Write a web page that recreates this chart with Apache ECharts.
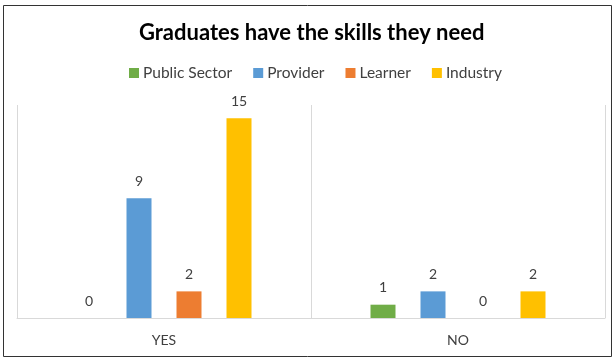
<!DOCTYPE html>
<html>
<head>
<meta charset="utf-8">
<script src="https://cdn.jsdelivr.net/npm/echarts@6/dist/echarts.min.js"></script>
<style>
  html, body { margin: 0; padding: 0; background: #ffffff; }
  #chart { width: 614px; height: 361px; }
</style>
</head>
<body>
<div id="chart"></div>
<script>
// Survey answers per stakeholder group
const categories = ['YES', 'NO'];
const publicSector = [0, 1];
const provider = [9, 2];
const learner = [2, 0];
const industry = [15, 2];

const FONT = 'Lato, "Open Sans", sans-serif';
const TEXT = '#404040';

function bar(name, data, color) {
  return {
    name: name,
    type: 'bar',
    data: data,
    barWidth: 25,
    barGap: '100%',
    itemStyle: { color: color },
    label: {
      show: true,
      position: 'top',
      distance: 10,
      color: TEXT,
      fontFamily: FONT,
      fontSize: 14
    }
  };
}

const chart = echarts.init(document.getElementById('chart'), null, { renderer: 'canvas' });
chart.setOption({
  backgroundColor: '#ffffff',
  animation: false,
  graphic: [{
    type: 'rect',
    shape: { x: 3.5, y: 5.5, width: 608, height: 351 },
    style: { fill: 'none', stroke: '#333333', lineWidth: 1 },
    z: 100
  }],
  title: {
    text: 'Graduates have the skills they need',
    left: 134,
    top: 17,
    textStyle: { fontFamily: FONT, fontSize: 22, fontWeight: 'bold', color: '#000000' }
  },
  legend: {
    top: 60,
    left: 124,
    itemWidth: 10,
    itemHeight: 10,
    itemGap: 21,
    icon: 'rect',
    textStyle: { fontFamily: FONT, fontSize: 15.5, color: TEXT, padding: [0, 0, 0, -1] }
  },
  grid: { left: 17, right: 9, top: 105, bottom: 43, containLabel: false },
  xAxis: {
    type: 'category',
    data: categories,
    axisLine: { lineStyle: { color: '#d9d9d9' } },
    axisTick: { show: false },
    splitLine: { show: true, lineStyle: { color: '#d9d9d9' } },
    axisLabel: { color: TEXT, fontFamily: FONT, fontSize: 14, margin: 15 }
  },
  yAxis: {
    type: 'value',
    min: 0,
    max: 16,
    show: false,
    splitLine: { show: false }
  },
  series: [
    bar('Public Sector', publicSector, '#70ad47'),
    bar('Provider', provider, '#5b9bd5'),
    bar('Learner', learner, '#ed7d31'),
    bar('Industry', industry, '#ffc000')
  ]
});
</script>
</body>
</html>
